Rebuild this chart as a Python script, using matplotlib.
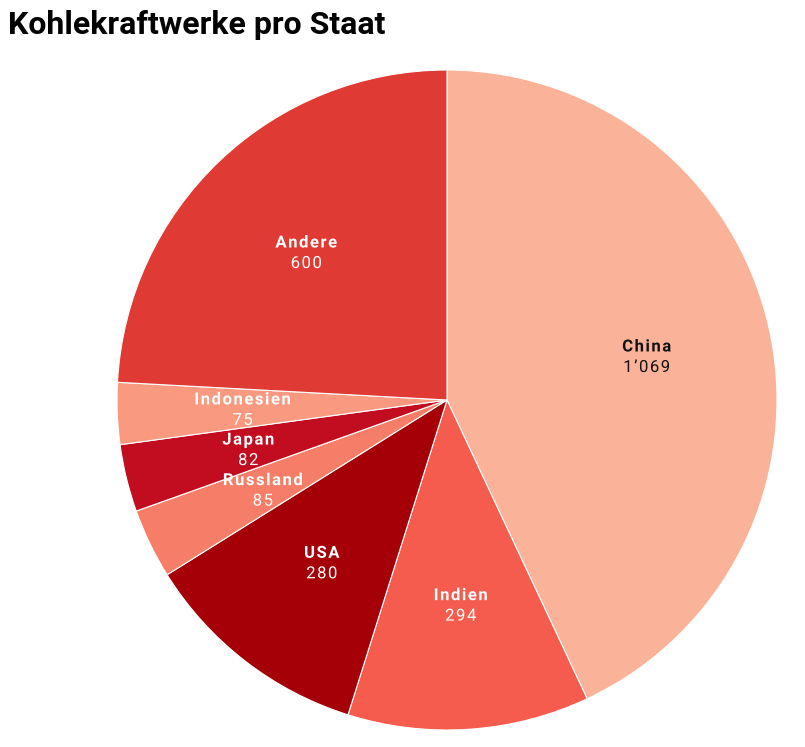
import matplotlib
matplotlib.use("Agg")
import matplotlib.pyplot as plt
from matplotlib.font_manager import FontProperties, findfont, get_font
from matplotlib.textpath import TextPath
from matplotlib.patches import PathPatch
from matplotlib.path import Path
from matplotlib.transforms import Affine2D, ScaledTranslation
from matplotlib import _text_helpers
import numpy as np

plt.rcParams['font.family'] = ['Roboto', 'DejaVu Sans']

staaten = ['China', 'Indien', 'USA', 'Russland', 'Japan', 'Indonesien', 'Andere']
werte = [1069, 294, 280, 85, 82, 75, 600]
wert_text = ['1’069', '294', '280', '85', '82', '75', '600']
farben = ['#FAB398', '#F65C4E', '#A50008', '#F67E68', '#C20C1F', '#F99A80', '#E03A34']
text_farben = ['#111111', 'white', 'white', 'white', 'white', 'white', 'white']

fig = plt.figure(figsize=(8.05, 7.47), dpi=100)
ax = fig.add_axes([117 / 805, 17 / 747, 660 / 805, 660 / 747])

wedges, _ = ax.pie(werte, colors=farben, startangle=90, counterclock=False,
                   radius=1, wedgeprops=dict(edgecolor='white', linewidth=0.8))
ax.set_xlim(-1, 1)
ax.set_ylim(-1, 1)
ax.set_aspect('equal')
ax.axis('off')

TRACK = 1.1  # extra points between letters, the original has loose tracking
PX = fig.dpi / 72


def spaced_text(x, y, s, base_px, weight, color, size=12):
    # glyph outlines placed by their advances plus tracking, centred on (x, y)
    prop = FontProperties(family='Roboto', weight=weight)
    font = get_font(findfont(prop))
    font.set_size(size, 72)
    items = list(_text_helpers.layout(s, font))
    adv = font.load_char(ord(items[-1].char)).linearHoriAdvance / 65536
    total = items[-1].x + adv + TRACK * (len(s) - 1)
    paths = [TextPath((it.x + TRACK * i, 0), it.char, size=size, prop=prop)
             for i, it in enumerate(items)]
    path = Path.make_compound_path(*paths)
    tr = (Affine2D().scale(PX).translate(-total * PX / 2, base_px)
          + ScaledTranslation(x, y, ax.transData))
    ax.add_patch(PathPatch(path, transform=tr, facecolor=color, edgecolor='none',
                           clip_on=False))


# labels at ~0.62 of the radius, name bold over the value
for w, name, txt, tc in zip(wedges, staaten, wert_text, text_farben):
    mid = np.deg2rad((w.theta1 + w.theta2) / 2)
    x, y = 0.62 * np.cos(mid), 0.62 * np.sin(mid)
    spaced_text(x, y, name, 4, 'bold', tc)
    spaced_text(x, y, txt, -16.5, 'normal', tc)

fig.text(8 / 805, 1 - 34 / 747, 'Kohlekraftwerke pro Staat', fontsize=23,
         fontweight='bold', color='black', ha='left', va='baseline')

fig.savefig('out.png', dpi=100)
